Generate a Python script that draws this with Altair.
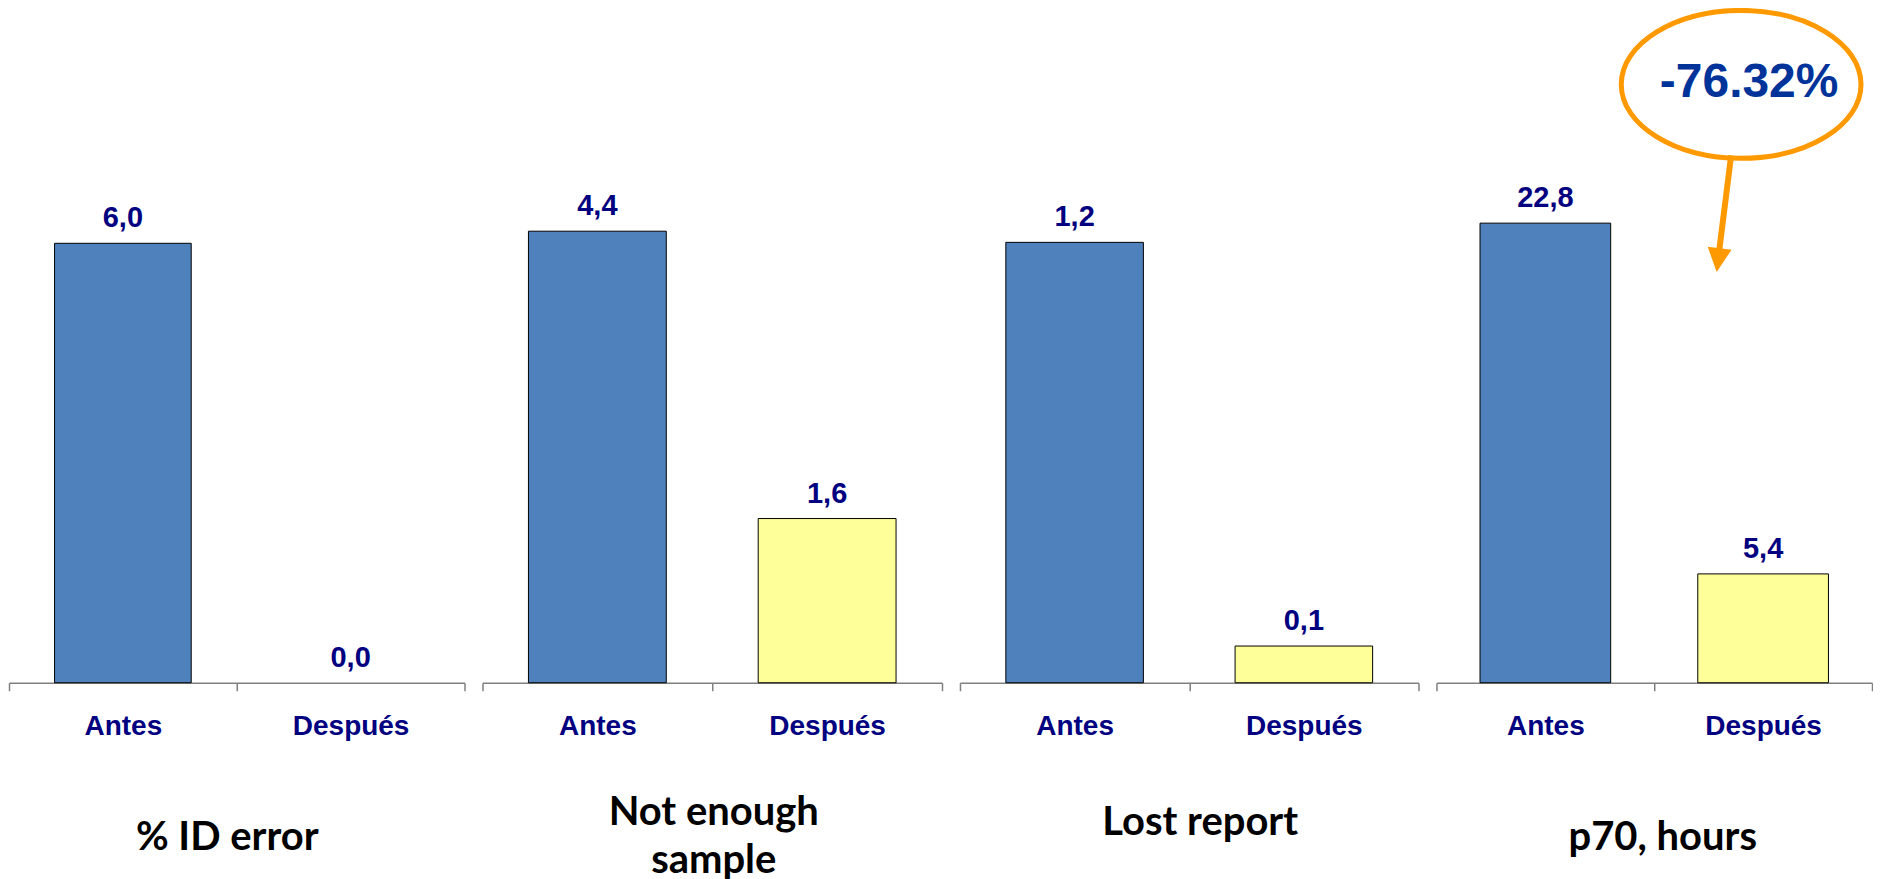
import altair as alt
import pandas as pd

# ---- data ----
periods = ["Antes", "Después"]
panel_titles = [["% ID error"], ["Not enough", "sample"], ["Lost report"], ["p70, hours"]]
antes = [6.0, 4.4, 1.2, 22.8]
despues = [0.0, 1.6, 0.1, 5.4]
annotation_text = ["-76.32%"]

# ---- scale / layout settings ----
y_max = [9.22, 6.58, 1.84, 33.5]
panel_widths = [456, 460, 459, 436]
title_x = [218, 231, 240, 226]
title_y = [167, 142, 152, 167]
H = 676

BLUE = "#4F81BD"
YELLOW = "#FFFF99"
NAVY = "#000080"
ORANGE = "#FF9900"

ELLIPSE = ("M -1 0 C -1 -0.3408 -0.5523 -0.617 0 -0.617 "
           "C 0.5523 -0.617 1 -0.3408 1 0 "
           "C 1 0.3408 0.5523 0.617 0 0.617 "
           "C -0.5523 0.617 -1 0.3408 -1 0 Z")


def fmt(v):
    return f"{v:.1f}".replace(".", ",")


def panel(i):
    df = pd.DataFrame({
        "period": periods,
        "value": [antes[i], despues[i]],
        "label": [fmt(antes[i]), fmt(despues[i])],
    })
    base = alt.Chart(df)
    title = panel_titles[i] if len(panel_titles[i]) > 1 else panel_titles[i][0]
    x = alt.X(
        "period:N",
        sort=periods,
        scale=alt.Scale(paddingInner=0, paddingOuter=0),
        axis=alt.Axis(
            title=title,
            titleX=title_x[i],
            titleY=title_y[i],
            titleAlign="center",
            titleAnchor="start",
            titleBaseline="alphabetic",
            titleFont="Lato",
            titleFontSize=40,
            titleFontWeight="bold",
            titleColor="black",
            titleLineHeight=48,
            labelFont="Liberation Sans",
            labelFontSize=28,
            labelFontWeight="bold",
            labelColor=NAVY,
            labelPadding=22,
            labelAngle=0,
            domainColor="#808080",
            domainWidth=1.5,
            tickColor="#808080",
            tickWidth=1.5,
            tickSize=8,
            tickBand="extent",
        ),
    )
    y = alt.Y("value:Q", scale=alt.Scale(domain=[0, y_max[i]], nice=False, zero=True), axis=None)

    bars = base.mark_bar(
        width=alt.RelativeBandSize(0.6), stroke="black"
    ).encode(
        x=x,
        y=y,
        color=alt.Color("period:N", scale=alt.Scale(domain=periods, range=[BLUE, YELLOW]), legend=None),
        strokeWidth=alt.condition(alt.datum.value > 0, alt.value(1), alt.value(0)),
    )
    labels = base.mark_text(
        dy=-16, baseline="alphabetic", font="Liberation Sans", fontSize=29,
        fontWeight="bold", color=NAVY,
    ).encode(x=x, y=y, text="label:N")

    layers = [bars, labels]

    if i == 3:
        ann = alt.Chart(pd.DataFrame({"t": annotation_text}))
        ellipse = ann.mark_point(
            shape=ELLIPSE, size=240 * 240, filled=False, stroke=ORANGE,
            strokeWidth=5, opacity=1,
        ).encode(x=alt.value(305), y=alt.value(77))
        txt = ann.mark_text(
            font="Liberation Sans", fontSize=48, fontWeight="bold", color="#003399",
            baseline="middle", align="center",
        ).encode(x=alt.value(313), y=alt.value(76), text="t:N")
        shaft = ann.mark_rule(color=ORANGE, strokeWidth=6).encode(
            x=alt.value(295), y=alt.value(148), x2=alt.value(283), y2=alt.value(244)
        )
        head = ann.mark_point(
            shape="M -1 -1 L 1 -1 L 0 1 Z", size=24 * 24, filled=True,
            color=ORANGE, opacity=1, angle=7,
        ).encode(x=alt.value(282), y=alt.value(253))
        layers += [ellipse, txt, shaft, head]

    return alt.layer(*layers).properties(width=panel_widths[i], height=H)


chart = alt.hconcat(
    *[panel(i) for i in range(4)], spacing=18, bounds="flush"
).properties(
    padding={"left": 0, "top": -9, "right": 0, "bottom": 0}
).configure_view(stroke=None)

chart.save("out.html", embed_options={"renderer": "svg", "actions": False})
